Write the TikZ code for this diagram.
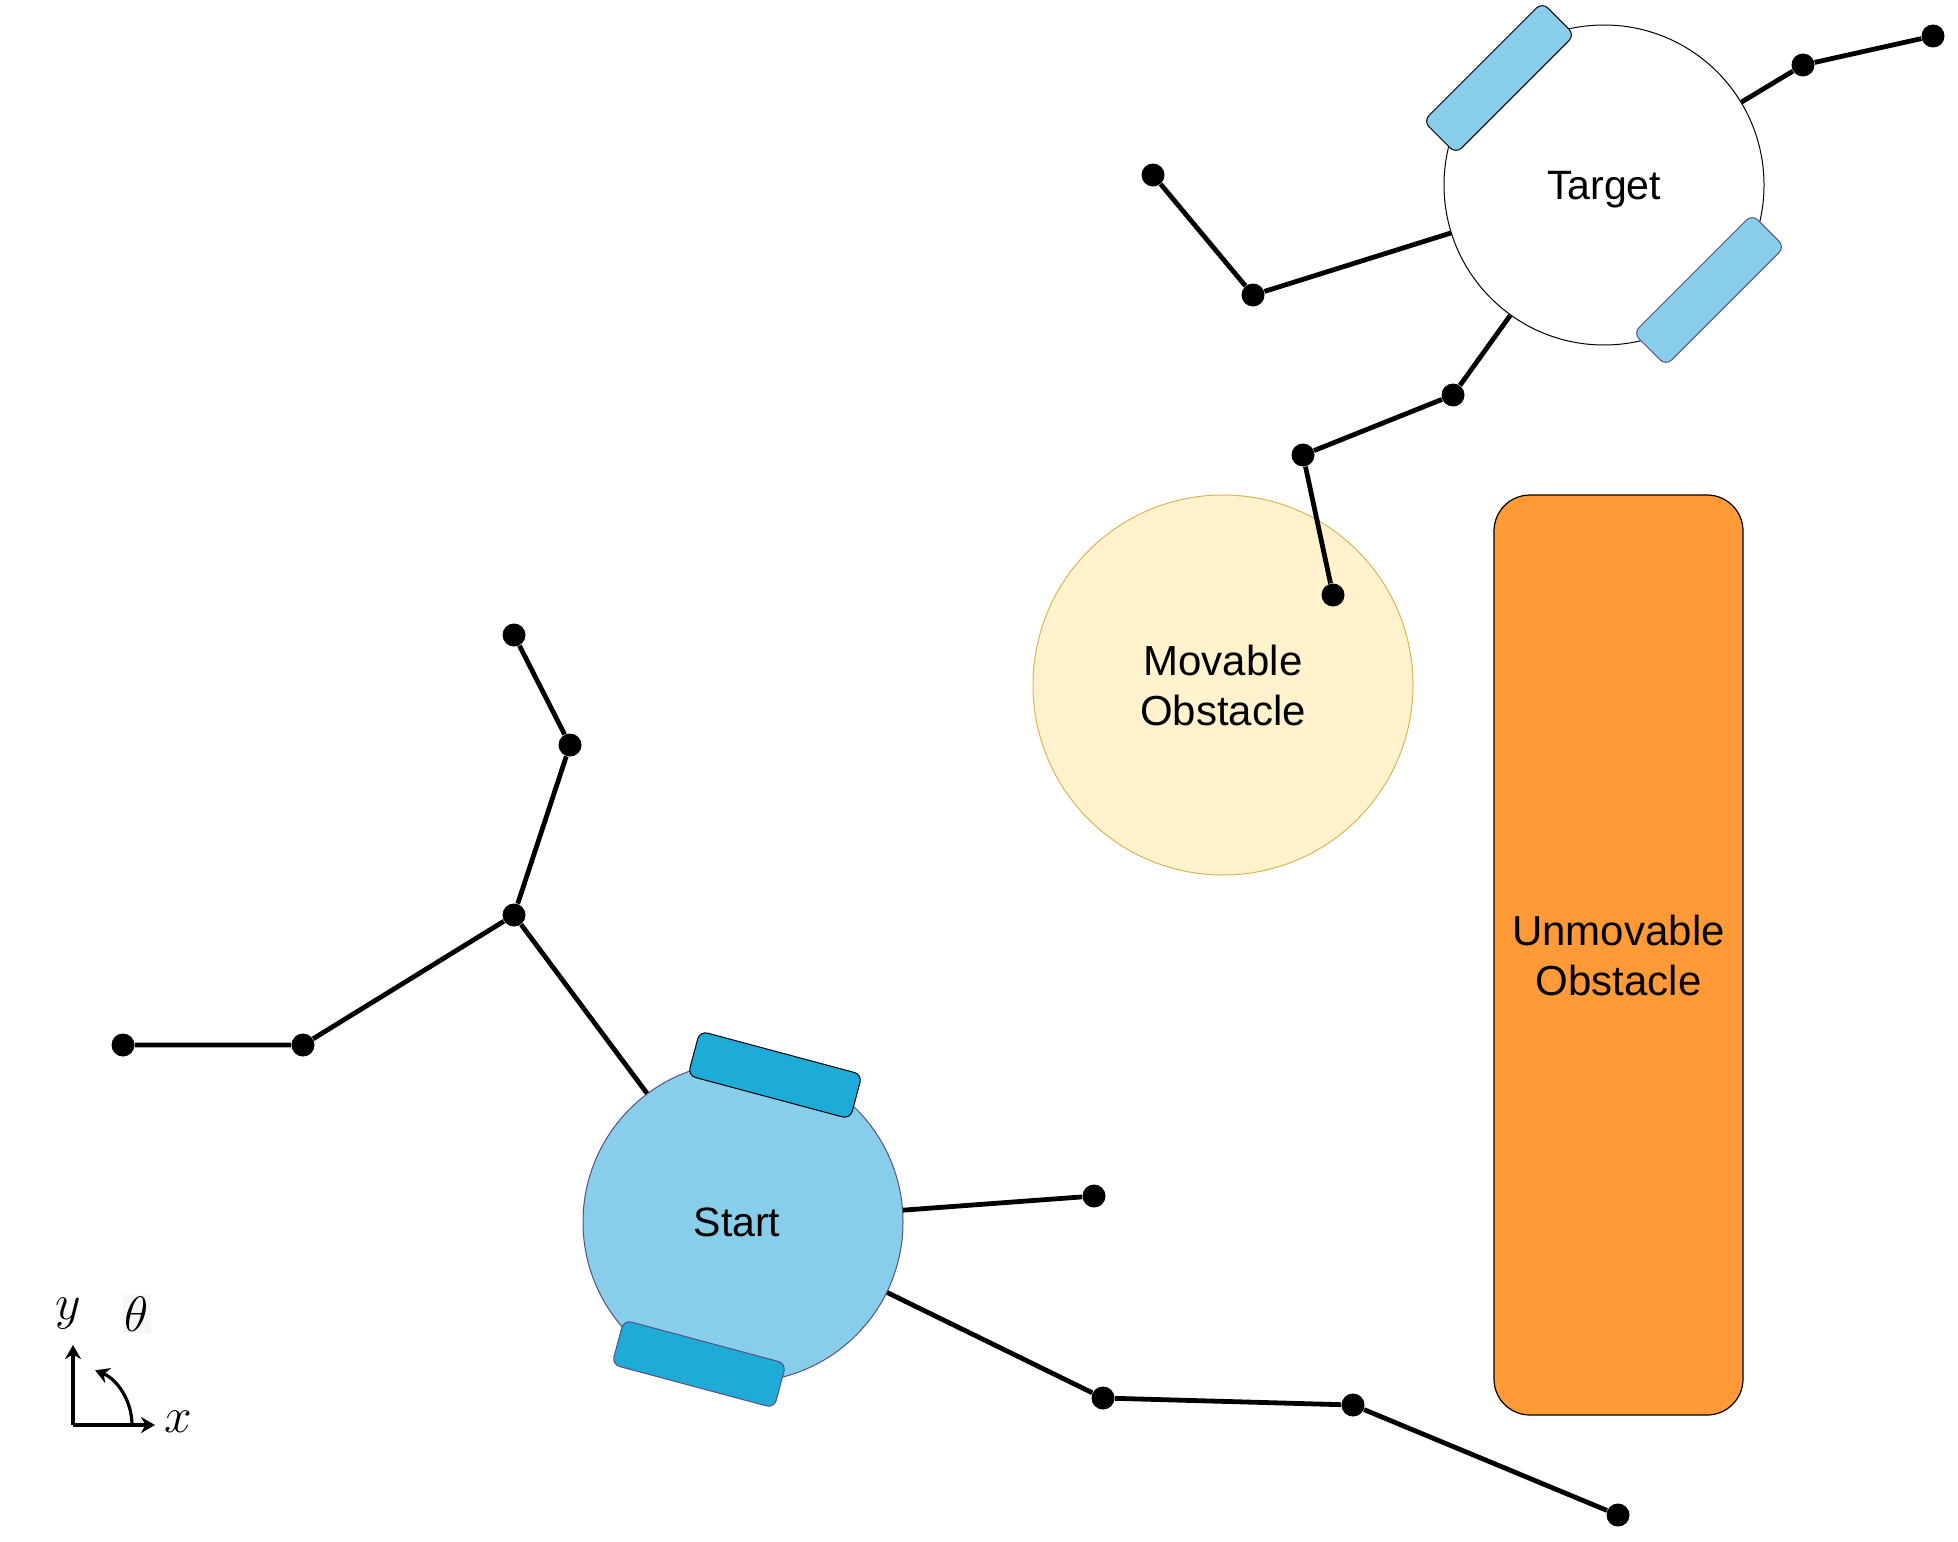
\documentclass[tikz,border=0pt]{standalone}
\usepackage{fontspec}
\setmainfont{Liberation Sans}
\usetikzlibrary{arrows.meta}
\definecolor{bodyblue}{HTML}{88CDE9}
\definecolor{wheelblue}{HTML}{1FABD7}
\definecolor{wheeledge}{HTML}{56517E}
\definecolor{movfill}{HTML}{FFF2CC}
\definecolor{movedge}{HTML}{D6B656}
\definecolor{orangefill}{HTML}{FF9A36}
\tikzset{
  robot/.style={circle, inner sep=0pt, minimum size=160pt, line width=0.5pt,
    font=\fontsize{20.5pt}{25pt}\selectfont, text depth=0pt},
  wheel/.style={rectangle, rounded corners=4pt, minimum width=84pt, minimum height=23pt,
    inner sep=0pt, line width=0.5pt},
  dot/.style={circle, fill=black, inner sep=0pt, minimum size=11.5pt},
  path/.style={line width=2.4pt},
  lbl/.style={font=\fontsize{21pt}{25pt}\selectfont, align=center},
  axis/.style={line width=1.6pt, -{Stealth[length=7pt,width=8pt]}},
  mathlbl/.style={font=\fontsize{25pt}{29pt}\selectfont, inner sep=1pt}
}
\begin{document}
\begin{tikzpicture}[x=0.5pt, y=-0.5pt]
\useasboundingbox (0,0) rectangle (1958,1541);
% obstacles
\node[circle, fill=movfill, draw=movedge, line width=0.5pt, minimum size=190pt, inner sep=0pt,
  lbl] (mov) at (1223,685) {Movable\\Obstacle};
\node[rectangle, rounded corners=18pt, fill=orangefill, draw=black, line width=0.6pt,
  minimum width=124.5pt, minimum height=460pt, inner sep=0pt, lbl] (unmov) at (1618.5,955) {Unmovable\\Obstacle};
% target robot
\node[robot, fill=white, draw=black] (target) at (1604,185) {Target};
\node[wheel, fill=bodyblue, draw=black, rotate=45] (tw1) at (1499,78) {};
\node[wheel, fill=bodyblue, draw=wheeledge, rotate=45] (tw2) at (1709,290) {};
% start robot
\node[robot, fill=bodyblue, draw=wheeledge] (start) at (743,1222) {Start\hspace*{6pt}};
\node[wheel, fill=wheelblue, draw=black, rotate=-15] (sw1) at (775,1075) {};
\node[wheel, fill=wheelblue, draw=wheeledge, rotate=-15] (sw2) at (699,1364) {};
% dots, target tree
\node[dot] (t1) at (1933,36) {};
\node[dot] (t2) at (1803,65) {};
\node[dot] (t3) at (1153,175) {};
\node[dot] (t4) at (1253,295) {};
\node[dot] (t5) at (1453,395) {};
\node[dot] (t6) at (1303,455) {};
\node[dot] (t7) at (1333,595) {};
% dots, start tree
\node[dot] (s1) at (514,635) {};
\node[dot] (s2) at (570,745) {};
\node[dot] (s3) at (514,915) {};
\node[dot] (s4) at (303,1045) {};
\node[dot] (s5) at (123,1045) {};
\node[dot] (s6) at (1094,1196) {};
\node[dot] (s7) at (1103,1398) {};
\node[dot] (s8) at (1353,1405) {};
\node[dot] (s9) at (1618,1515) {};
% connectors
\draw[path] (t1) -- (t2) -- (target);
\draw[path] (t3) -- (t4) -- (target);
\draw[path] (t7) -- (t6) -- (t5) -- (target);
\draw[path] (s1) -- (s2) -- (s3) -- (s4) -- (s5);
\draw[path] (s3) -- (start);
\draw[path] (s6) -- (start);
\draw[path] (s9) -- (s8) -- (s7) -- (start);
% axes
\coordinate (o) at (73,1425);
\coordinate (ytip) at (73,1345);
\coordinate (xtip) at (155,1425);
\draw[axis] (o) -- (ytip);
\draw[axis] (o) -- (xtip);
\draw[axis] (132,1425) arc[start angle=0, end angle=-68, radius=59];
\node[mathlbl] (ylbl) at (68,1314) {$y$};
\node[mathlbl, fill=black!3] (thlbl) at (137,1314) {$\theta$};
\node[mathlbl] (xlbl) at (178,1422) {$x$};
\end{tikzpicture}
\end{document}
